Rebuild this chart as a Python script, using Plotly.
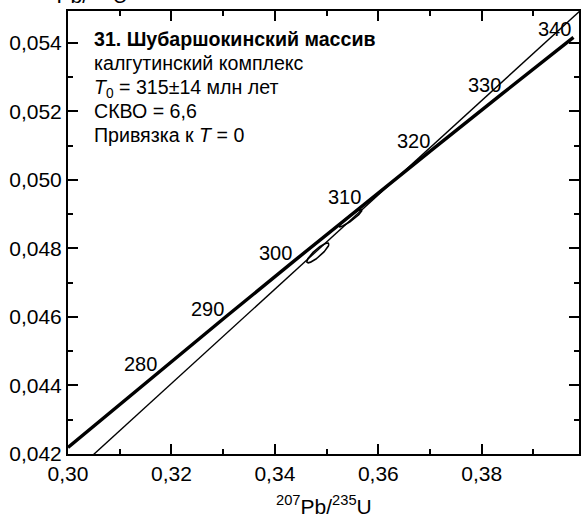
import numpy as np
import plotly.graph_objects as go

# Concordia curve (207Pb/235U, 206Pb/238U) at ages in Ma
conc_age = [266.4, 270, 280, 290, 300, 310, 320, 330, 340]
conc_x = [0.30000, 0.30462, 0.31753, 0.33057, 0.34374, 0.35704, 0.37047, 0.38403, 0.39773]
conc_y = [0.042192, 0.042773, 0.044392, 0.046013, 0.047637, 0.049264, 0.050893, 0.052524, 0.054158]
label_ages = [280, 290, 300, 310, 320, 330, 340]

# Discordia anchored at T = 0, upper intercept 315 Ma
disc_x = [0.3040, 0.4000]
disc_y = [0.041855, 0.055072]

# Analyses: centre, 1-sigma errors and error correlation
spot_x = [0.3483, 0.3546]
spot_sx = [0.00214, 0.00222]
spot_y = [0.04787, 0.04888]
spot_sy = [0.00029, 0.00025]
spot_rho = [0.88, 0.93]

# Caption lines
caption = [
    "<b>31. Шубаршокинский массив</b>",
    "калгутинский комплекс",
    "<i>T</i><sub>0</sub> = 315±14 млн лет",
    "СКВО = 6,6",
    "Привязка к <i>T</i> = 0",
]

FONT = "Liberation Sans, Arial, sans-serif"

fig = go.Figure()

fig.add_trace(go.Scatter(x=disc_x, y=disc_y, mode="lines",
                         line=dict(color="black", width=1.4), hoverinfo="skip"))
fig.add_trace(go.Scatter(x=conc_x, y=conc_y, mode="lines",
                         line=dict(color="black", width=3.4), hoverinfo="skip"))

# error ellipses
t = np.linspace(0, 2 * np.pi, 200)
for cx, sx, cy, sy, r in zip(spot_x, spot_sx, spot_y, spot_sy, spot_rho):
    ex = cx + sx * np.cos(t)
    ey = cy + sy * (r * np.cos(t) + np.sqrt(1 - r * r) * np.sin(t))
    fig.add_trace(go.Scatter(x=ex, y=ey, mode="lines",
                             line=dict(color="black", width=1.6), hoverinfo="skip"))

annotations = []
# age labels on the concordia
for a in label_ages:
    i = conc_age.index(a)
    annotations.append(dict(x=conc_x[i], y=conc_y[i], xref="x", yref="y",
                            text=str(a), showarrow=False, xanchor="right",
                            yanchor="bottom", xshift=-1, yshift=-4, borderpad=0,
                            font=dict(family=FONT, size=20, color="black")))

# caption block
for n, line in enumerate(caption):
    annotations.append(dict(x=0, y=1, xref="paper", yref="paper", text=line,
                            showarrow=False, xanchor="left", yanchor="top",
                            xshift=25, yshift=-16 - 24 * n, borderpad=0,
                            font=dict(family=FONT, size=19.6, color="black")))

# axis titles
annotations.append(dict(x=0.5, y=0, xref="paper", yref="paper",
                        text="<sup>207</sup>Pb/<sup>235</sup>U", showarrow=False,
                        xanchor="center", yanchor="bottom", yshift=-65, borderpad=0,
                        font=dict(family=FONT, size=21, color="black")))
annotations.append(dict(x=0, y=1, xref="paper", yref="paper",
                        text="<sup>206</sup>Pb/<sup>238</sup>U", showarrow=False,
                        xanchor="center", yanchor="bottom", xshift=12, yshift=3,
                        borderpad=0,
                        font=dict(family=FONT, size=21, color="black")))

axis_common = dict(showline=True, linecolor="black", linewidth=2, mirror="ticks",
                   ticks="inside", ticklen=10, tickwidth=1.5, tickcolor="black",
                   showgrid=False, zeroline=False,
                   tickfont=dict(family=FONT, size=21, color="black"))

fig.update_layout(
    width=586, height=519,
    margin=dict(l=68, r=5, t=11, b=65),
    paper_bgcolor="white", plot_bgcolor="white",
    showlegend=False,
    separators=", ",
    annotations=annotations,
    xaxis=dict(range=[0.30, 0.3988], dtick=0.02, tick0=0.30, tickformat=".2f",
               minor=dict(dtick=0.01, ticks="inside", ticklen=5, tickwidth=1.5,
                          tickcolor="black"),
               **axis_common),
    yaxis=dict(range=[0.042, 0.05493], dtick=0.002, tick0=0.042, tickformat=".3f",
               minor=dict(dtick=0.001, ticks="inside", ticklen=5, tickwidth=1.5,
                          tickcolor="black"),
               **axis_common),
)

fig.write_html("out.html")
